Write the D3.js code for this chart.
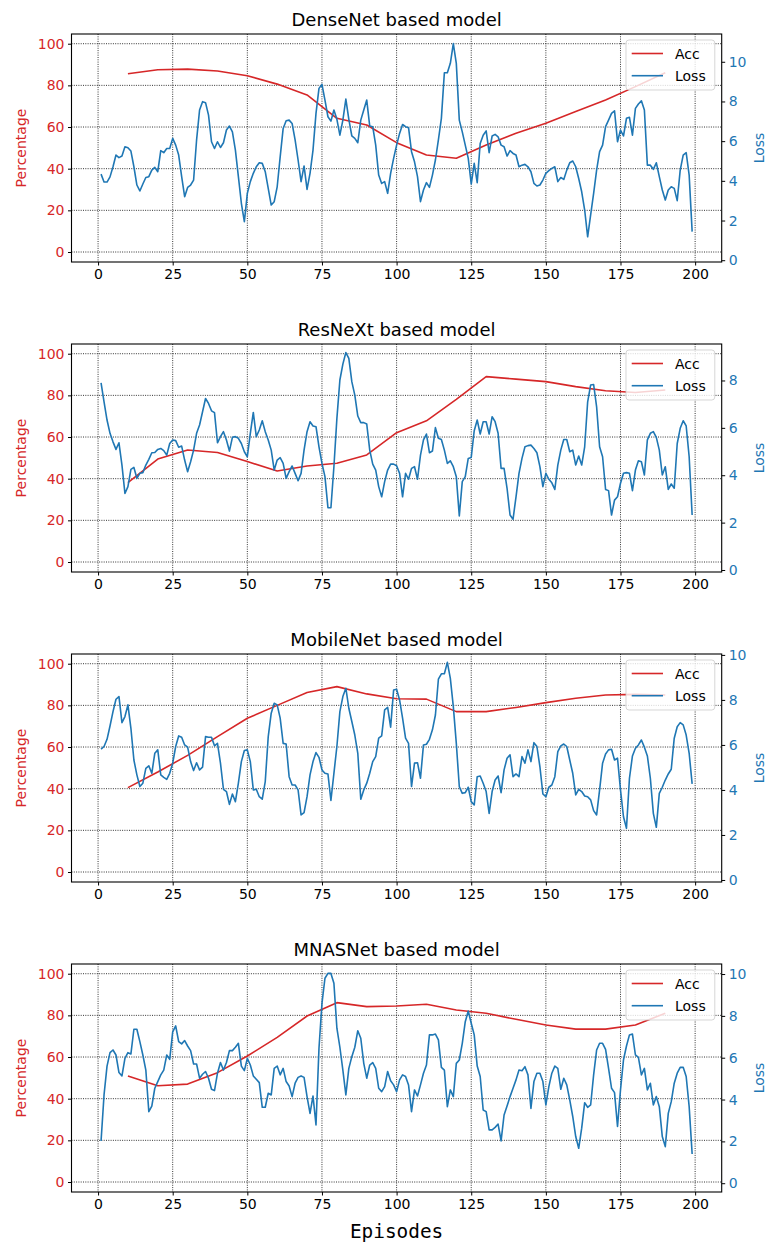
<!DOCTYPE html>
<html>
<head>
<meta charset="utf-8">
<script src="https://cdn.jsdelivr.net/npm/d3@7"></script>
<style>
  body { margin: 0; background: #fff; }
  svg { display: block; }
</style>
</head>
<body>
<div class="center"></div>
<script>
// chart values
const titles = ["DenseNet based model", "ResNeXt based model", "MobileNet based model", "MNASNet based model"];
const accEpisodes = [10, 20, 30, 40, 50, 60, 70, 80, 90, 100, 110, 120, 130, 140, 150, 160, 170, 180, 190];
const lossEpisodes = d3.range(1, 200);
const xTicks = [0, 25, 50, 75, 100, 125, 150, 175, 200];
const accTicks = [0, 20, 40, 60, 80, 100];
const lossTicks = [[0, 2, 4, 6, 8, 10], [0, 2, 4, 6, 8], [0, 2, 4, 6, 8, 10], [0, 2, 4, 6, 8, 10]];
const lossLimits = [[-0.09, 11.4], [-0.085, 9.54], [-0.09, 10.04], [-0.42, 10.48]];

const denseAcc = [85.6, 87.5, 87.8, 86.9, 84.6, 80.6, 75.4, 64.2, 61, 52.5, 46.6, 45, 51.4, 57, 61.8, 67.4, 73, 79.4, 86.1];
const denseLoss = [4.34, 3.94, 3.94, 4.2, 4.71, 5.3, 5.17, 5.25, 5.72, 5.67,
  5.5, 4.71, 3.79, 3.49, 3.84, 4.17, 4.21, 4.54, 4.68, 4.46,
  5.52, 5.42, 5.63, 5.63, 6.14, 5.8, 5.3, 4.21, 3.2, 3.67,
  3.79, 4.04, 6.06, 7.57, 7.99, 7.94, 7.31, 5.97, 5.63, 5.97,
  5.68, 5.92, 6.56, 6.76, 6.47, 5.55, 4.21, 2.87, 1.94, 3.37,
  3.96, 4.38, 4.71, 4.91, 4.88, 4.46, 3.62, 2.78, 2.95, 3.7,
  5.21, 6.64, 7.03, 7.06, 6.89, 6.06, 5.05, 3.96, 4.75, 3.57,
  4.38, 5.55, 7.4, 8.66, 8.86, 8.07, 7.23, 7.01, 7.57, 7.1,
  6.3, 7.06, 8.12, 7.1, 6.26, 6.14, 5.92, 7.06, 7.57, 8.07,
  6.76, 6.73, 5.8, 4.29, 3.87, 3.96, 3.37, 4.38, 5.13, 5.8,
  6.39, 6.84, 6.73, 6.68, 5.47, 4.96, 4.21, 2.95, 3.54, 3.91,
  3.67, 4.29, 5.05, 6.06, 7.15, 9.45, 9.45, 9.92, 10.92, 9.92,
  7.06, 6.47, 5.8, 5.13, 3.84, 4.88, 3.91, 5.88, 6.3, 6.52,
  5.42, 6.26, 6.34, 6.22, 5.8, 5.72, 5.25, 5.52, 5.38, 5.3,
  4.71, 4.79, 4.83, 4.71, 4.46, 3.87, 3.74, 3.79, 4.04, 4.38,
  4.51, 4.63, 4.71, 3.96, 4.17, 4.07, 4.54, 4.91, 5.0, 4.71,
  4.12, 3.45, 2.53, 1.18, 2.28, 3.37, 4.54, 5.47, 5.8, 6.73,
  7.06, 7.4, 7.53, 5.97, 6.56, 6.26, 7.15, 7.2, 6.3, 7.65,
  7.87, 8.03, 7.57, 4.79, 4.79, 4.58, 4.91, 4.21, 3.54, 3.03,
  3.54, 3.7, 3.62, 3.0, 4.54, 5.3, 5.42, 4.29, 1.44];

const resnextAcc = [38.1, 49.4, 53.8, 52.6, 48.2, 43.7, 46.1, 47.4, 51.4, 62.1, 67.8, 78.1, 89, 87.8, 86.6, 84.2, 82.2, 81.4, 82.6];
const resnextLoss = [7.9, 7.1, 6.33, 5.77, 5.41, 5.09, 5.37, 4.43, 3.23, 3.52,
  4.25, 4.33, 3.87, 4.08, 4.11, 4.43, 4.67, 4.95, 4.96, 5.09,
  5.13, 5.04, 4.85, 5.34, 5.49, 5.46, 5.18, 5.23, 4.64, 4.15,
  4.57, 5.06, 5.77, 6.12, 6.68, 7.24, 7.03, 6.72, 6.64, 5.37,
  5.63, 5.84, 5.49, 5.02, 5.6, 5.63, 5.56, 5.34, 4.99, 4.78,
  5.77, 6.65, 5.63, 5.91, 6.3, 5.84, 5.49, 5.06, 4.22, 4.64,
  4.74, 4.5, 3.87, 4.15, 4.39, 4.08, 3.77, 4.08, 5.06, 5.84,
  6.26, 6.08, 6.05, 5.2, 4.5, 3.94, 2.63, 2.63, 4.36, 6.4,
  8.02, 8.69, 9.18, 8.93, 7.95, 7.38, 6.5, 6.22, 6.22, 6.16,
  5.06, 4.47, 4.22, 3.52, 3.09, 3.73, 4.22, 4.47, 4.47, 4.4,
  4.08, 3.09, 4.08, 3.83, 4.29, 4.36, 3.83, 4.85, 5.49, 5.74,
  4.95, 5.02, 6.01, 5.56, 5.51, 5.06, 4.5, 4.61, 4.36, 3.94,
  2.28, 3.73, 3.94, 4.71, 4.75, 5.88, 6.33, 5.74, 6.26, 6.26,
  5.74, 6.47, 6.26, 5.77, 4.29, 4.29, 3.45, 2.32, 2.14, 3.09,
  4.08, 4.71, 5.2, 5.25, 5.27, 5.13, 4.95, 4.36, 3.52, 4.08,
  3.83, 3.68, 3.4, 4.43, 5.06, 5.51, 5.51, 4.99, 5.06, 4.43,
  4.81, 4.43, 5.2, 7.1, 7.81, 7.83, 6.89, 5.2, 4.78, 3.4,
  3.35, 2.32, 2.95, 3.09, 3.66, 4.08, 4.11, 4.08, 3.35, 4.22,
  4.61, 4.57, 4.01, 5.49, 5.77, 5.84, 5.6, 5.06, 4.01, 4.36,
  3.4, 3.63, 3.45, 5.34, 5.98, 6.3, 6.08, 4.78, 2.32];

const mobileAcc = [40.5, 48, 56, 65, 73.8, 80, 86.2, 89, 85.5, 83.2, 83, 77, 77, 79, 81.3, 83.4, 85, 85.3, 85];
const mobileLoss = [5.81, 5.93, 6.25, 6.84, 7.48, 8.03, 8.15, 6.99, 7.26, 7.78,
  6.74, 5.33, 4.67, 4.15, 4.3, 4.96, 5.07, 4.74, 5.63, 5.78,
  4.67, 4.56, 4.47, 4.74, 5.19, 5.93, 6.4, 6.34, 6.0, 5.9,
  5.26, 4.86, 5.21, 4.89, 5.01, 6.37, 6.34, 6.34, 5.96, 6.07,
  5.19, 4.03, 3.93, 3.36, 3.82, 3.48, 4.3, 5.26, 5.75, 5.78,
  5.26, 4.0, 4.03, 3.7, 3.59, 4.37, 6.37, 7.41, 7.85, 7.78,
  7.19, 6.07, 6.04, 4.59, 4.22, 4.22, 4.0, 2.89, 2.99, 3.7,
  4.67, 5.26, 5.66, 5.45, 4.89, 4.74, 4.71, 3.53, 4.74, 5.93,
  7.48, 8.15, 8.52, 7.63, 7.04, 6.44, 5.63, 3.59, 4.0, 4.3,
  4.74, 5.26, 5.48, 6.3, 6.4, 7.56, 7.67, 6.79, 8.44, 8.47,
  8.0, 7.19, 6.3, 6.07, 4.15, 5.19, 5.21, 4.52, 6.0, 6.03,
  6.25, 6.67, 7.33, 8.92, 9.16, 9.16, 9.67, 8.96, 7.7, 6.07,
  4.15, 3.85, 3.88, 4.12, 3.48, 3.33, 4.59, 4.62, 4.3, 3.93,
  2.96, 3.93, 4.44, 4.62, 3.88, 4.89, 5.41, 5.56, 4.59, 4.71,
  4.59, 5.48, 5.19, 5.78, 5.26, 6.1, 5.93, 5.04, 3.82, 3.7,
  4.12, 4.22, 4.59, 5.7, 5.96, 6.04, 5.93, 5.33, 4.74, 3.78,
  4.03, 3.93, 3.73, 3.7, 3.56, 3.08, 2.89, 4.0, 5.19, 5.6,
  5.78, 5.81, 5.33, 5.41, 4.0, 2.81, 2.3, 4.52, 5.51, 5.85,
  6.0, 6.22, 5.9, 5.51, 4.52, 2.96, 2.34, 3.85, 4.12, 4.44,
  4.71, 4.92, 6.3, 6.81, 6.99, 6.89, 6.44, 5.63, 4.27];

const mnasAcc = [50.9, 46.2, 47, 52.5, 60.5, 69.4, 79.7, 86.1, 84.2, 84.5, 85.3, 82.6, 81, 78.1, 75.4, 73.4, 73.4, 75.4, 81];
const mnasLoss = [2.02, 4.22, 5.6, 6.24, 6.37, 6.13, 5.29, 5.13, 5.97, 6.24,
  6.18, 7.36, 7.36, 6.77, 6.13, 5.41, 3.42, 3.69, 4.54, 4.86,
  5.18, 5.41, 6.13, 5.92, 7.24, 7.52, 6.77, 6.66, 6.82, 6.56,
  6.34, 5.7, 5.7, 5.02, 5.21, 5.34, 5.02, 4.49, 4.43, 5.26,
  5.77, 5.41, 5.77, 6.34, 6.34, 6.5, 6.69, 5.6, 5.38, 5.97,
  5.65, 5.13, 4.97, 4.81, 3.63, 3.63, 4.3, 4.22, 5.49, 5.6,
  5.18, 5.49, 4.86, 4.65, 4.14, 4.78, 5.06, 5.13, 5.06, 4.14,
  3.34, 4.17, 2.79, 6.45, 8.6, 9.8, 10.03, 10.03, 9.56, 7.41,
  6.5, 5.41, 4.22, 5.49, 6.05, 6.5, 7.29, 6.93, 5.73, 5.02,
  5.65, 5.77, 5.49, 4.54, 4.38, 4.62, 5.34, 4.9, 4.7, 4.38,
  4.94, 5.18, 5.1, 4.7, 3.42, 4.46, 4.17, 4.7, 5.26, 5.65,
  7.09, 7.09, 7.13, 6.85, 5.54, 5.41, 3.66, 4.46, 4.14, 5.73,
  5.89, 6.69, 7.72, 8.23, 7.65, 7.09, 5.6, 5.1, 3.5, 3.42,
  2.55, 2.55, 2.67, 2.83, 2.02, 3.26, 3.69, 4.14, 4.54, 4.94,
  5.41, 5.38, 5.57, 5.18, 3.58, 4.86, 5.26, 5.26, 4.86, 3.74,
  4.62, 5.26, 5.6, 5.49, 4.49, 5.02, 4.7, 3.98, 3.19, 2.23,
  1.67, 2.63, 3.85, 3.63, 3.74, 5.18, 6.37, 6.69, 6.69, 6.4,
  5.49, 4.54, 4.33, 2.71, 4.46, 5.89, 6.56, 7.09, 7.13, 6.13,
  6.02, 5.18, 5.49, 4.46, 4.78, 3.74, 4.14, 3.66, 2.23, 1.75,
  3.34, 3.9, 4.78, 5.26, 5.54, 5.54, 5.1, 3.66, 1.4];

const accSeries = [denseAcc, resnextAcc, mobileAcc, mnasAcc];
const lossSeries = [denseLoss, resnextLoss, mobileLoss, mnasLoss];

// layout
const W = 766, H = 1243;
const left = 71.5, right = 721.7;
const firstTop = 34, step = 310, axH = 228;
const red = "#d62728", blue = "#1f77b4";
const font = "DejaVu Sans, sans-serif";

const svg = d3.select(".center").append("svg")
    .attr("width", W)
    .attr("height", H)
    .style("font-family", font);

const xScale = d3.scaleLinear().domain([-8.9, 208.9]).range([left, right]);

function styleAxis(g, color) {
    g.select(".domain").remove();
    g.selectAll(".tick line").attr("stroke", "#000").attr("stroke-width", 1);
    g.selectAll(".tick text")
        .attr("fill", color)
        .style("font-family", font)
        .style("font-size", "14px");
}

titles.forEach(function(title, i) {
    const top = firstTop + i * step;
    const bottom = top + axH;
    const accScale = d3.scaleLinear().domain([-4.8, 104.66]).range([bottom, top]);
    const lossScale = d3.scaleLinear().domain(lossLimits[i]).range([bottom, top]);

    const g = svg.append("g");

    // grid (from the left axis)
    g.selectAll("line.vgrid")
        .data(xTicks)
        .enter().append("line")
        .attr("x1", d => xScale(d)).attr("x2", d => xScale(d))
        .attr("y1", top).attr("y2", bottom)
        .attr("stroke", "#000").attr("stroke-width", 0.8)
        .attr("stroke-dasharray", "1,1.3");
    g.selectAll("line.hgrid")
        .data(accTicks)
        .enter().append("line")
        .attr("x1", left).attr("x2", right)
        .attr("y1", d => accScale(d)).attr("y2", d => accScale(d))
        .attr("stroke", "#000").attr("stroke-width", 0.8)
        .attr("stroke-dasharray", "1,1.3");

    // accuracy line
    const accLine = d3.line()
        .x((d, j) => xScale(accEpisodes[j]))
        .y(d => accScale(d));
    g.append("path")
        .datum(accSeries[i])
        .attr("d", accLine)
        .attr("fill", "none")
        .attr("stroke", red)
        .attr("stroke-width", 1.6)
        .attr("stroke-linejoin", "round");

    // loss line
    const lossLine = d3.line()
        .x((d, j) => xScale(lossEpisodes[j]))
        .y(d => lossScale(d));
    g.append("path")
        .datum(lossSeries[i])
        .attr("d", lossLine)
        .attr("fill", "none")
        .attr("stroke", blue)
        .attr("stroke-width", 1.6)
        .attr("stroke-linejoin", "round");

    // frame
    g.append("rect")
        .attr("x", left).attr("y", top)
        .attr("width", right - left).attr("height", axH)
        .attr("fill", "none")
        .attr("stroke", "#000")
        .attr("stroke-width", 1.1);

    // axes
    g.append("g")
        .attr("transform", `translate(${left},0)`)
        .call(d3.axisLeft(accScale).tickValues(accTicks).tickSize(3.5).tickPadding(3.5))
        .call(a => styleAxis(a, red));
    g.append("g")
        .attr("transform", `translate(${right},0)`)
        .call(d3.axisRight(lossScale).tickValues(lossTicks[i]).tickSize(3.5).tickPadding(3.5))
        .call(a => styleAxis(a, blue));
    g.append("g")
        .attr("transform", `translate(0,${bottom})`)
        .call(d3.axisBottom(xScale).tickValues(xTicks).tickSize(3.5).tickPadding(3.5))
        .call(a => styleAxis(a, "#000"));

    // title
    g.append("text")
        .attr("x", (left + right) / 2)
        .attr("y", top - 8.3)
        .attr("text-anchor", "middle")
        .style("font-size", "18px")
        .text(title);

    // y labels
    g.append("text")
        .attr("transform", `translate(25.5,${top + axH / 2}) rotate(-90)`)
        .attr("text-anchor", "middle")
        .attr("fill", red)
        .style("font-size", "14px")
        .text("Percentage");
    g.append("text")
        .attr("transform", `translate(763.5,${top + axH / 2}) rotate(-90)`)
        .attr("text-anchor", "middle")
        .attr("fill", blue)
        .style("font-size", "14px")
        .text("Loss");

    // legend
    const lg = g.append("g").attr("transform", `translate(626,${top + 6})`);
    lg.append("rect")
        .attr("width", 88.8).attr("height", 50)
        .attr("rx", 3).attr("ry", 3)
        .attr("fill", "#fff").attr("fill-opacity", 0.8)
        .attr("stroke", "#ccc").attr("stroke-opacity", 0.8)
        .attr("stroke-width", 1);
    [["Acc", red, 13.5], ["Loss", blue, 35.7]].forEach(function(item) {
        lg.append("line")
            .attr("x1", 5.7).attr("x2", 37)
            .attr("y1", item[2]).attr("y2", item[2])
            .attr("stroke", item[1]).attr("stroke-width", 1.6);
        lg.append("text")
            .attr("x", 49)
            .attr("y", item[2] + 5)
            .style("font-size", "14px")
            .text(item[0]);
    });
});

// x label
svg.append("text")
    .attr("x", (left + right) / 2)
    .attr("y", 1238)
    .attr("text-anchor", "middle")
    .style("font-family", "DejaVu Sans Mono, monospace")
    .style("font-size", "19.4px")
    .text("Episodes");
</script>
</body>
</html>
